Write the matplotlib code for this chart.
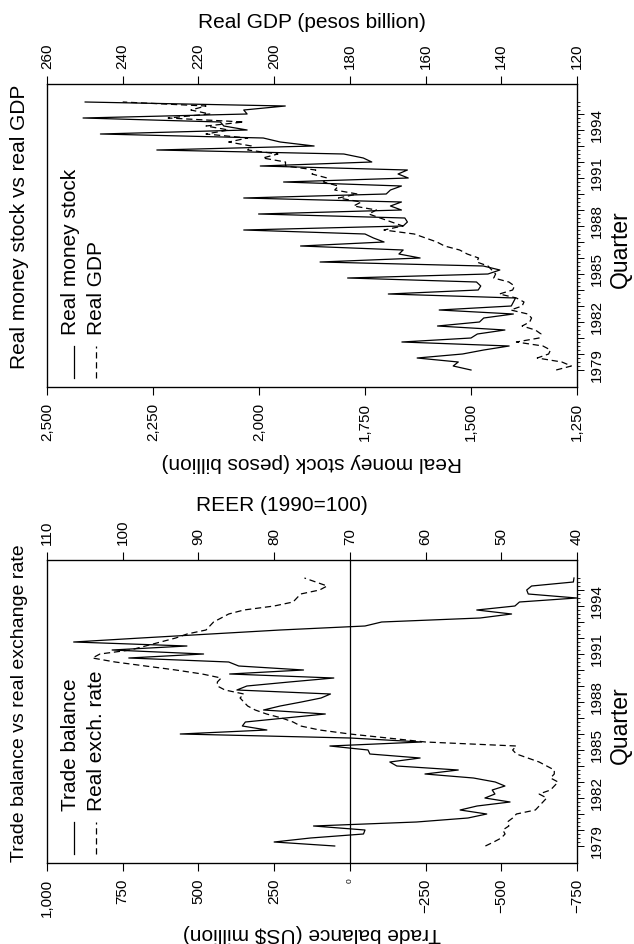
import numpy as np
import matplotlib
matplotlib.use('Agg')
import matplotlib.pyplot as plt
from matplotlib.lines import Line2D
from matplotlib.transforms import ScaledTranslation

plt.rcParams['font.family'] = ['Liberation Sans', 'DejaVu Sans']

# quarterly data, 1979Q1 - 1995Q4
start_year = 1979

money_stock = [1500, 1542, 1530, 1627,
               1520, 1470, 1410, 1663,
               1500, 1485, 1420, 1579,
               1480, 1470, 1400, 1575,
               1405, 1400, 1395, 1695,
               1483, 1477, 1487, 1791,
               1460, 1432, 1471, 1856,
               1620, 1670, 1660, 1902,
               1705, 1730, 1750, 2036,
               1660, 1650, 1656, 2001,
               1664, 1690, 1664, 2036,
               1700, 1690, 1664, 1942,
               1648, 1672, 1650, 1997,
               1734, 1754, 1800, 2241,
               1870, 1950, 1990, 2374,
               2028, 2083, 2091, 2415,
               2028, 2036, 1938, 2410]

real_gdp = [125.5, 121.5, 124.0, 130.5,
            127.5, 127.0, 129.0, 136.0,
            130.0, 129.5, 131.0, 134.5,
            132.5, 132.0, 133.0, 137.5,
            134.5, 134.0, 136.0, 140.5,
            137.0, 136.5, 138.0, 142.0,
            141.5, 142.5, 143.5, 146.5,
            146.0, 149.0, 151.0, 155.0,
            157.0, 160.0, 163.0, 171.0,
            166.0, 169.0, 172.0, 175.0,
            173.0, 179.0, 177.0, 183.0,
            178.0, 184.0, 183.0, 187.0,
            186.0, 190.0, 189.0, 197.0,
            197.0, 203.0, 199.0, 207.0,
            206.0, 212.0, 207.0, 218.0,
            212.0, 218.0, 208.0, 228.0,
            217.0, 222.0, 218.0, 240.0]

trade_balance = [50, 250, 130, -45,
                 -50, 120, -220, -390,
                 -452, -364, -420, -529,
                 -446, -479, -470, -512,
                 -480, -408, -248, -358,
                 -155, -132, -232, -66,
                 -60, 66, -237, -1,
                 560, 274, 355, 345,
                 213, 81, 285, 230,
                 160, 95, 64, 373,
                 340, 200, 53, 397,
                 153, 367, 400, 730,
                 483, 785, 538, 912,
                 690, 460, 230, -50,
                 -105, -430, -534, -419,
                 -545, -560, -749, -589,
                 -584, -600, -738, -740]

reer = [52.1, 51.0, 50.0, 49.5,
        49.8, 49.0, 49.2, 48.5,
        48.0, 45.5, 45.0, 44.5,
        44.0, 45.0, 43.5, 43.0,
        42.5, 43.5, 43.0, 43.0,
        44.0, 45.0, 46.5, 48.0,
        48.5, 48.0, 60.0, 65.0,
        70.0, 74.0, 76.5, 77.5,
        79.0, 81.0, 82.5, 83.5,
        84.0, 84.5, 84.0, 86.5,
        87.5, 87.5, 87.0, 89.5,
        93.0, 97.0, 101.0, 104.0,
        103.0, 99.0, 97.0, 95.0,
        93.0, 91.5, 89.0, 88.5,
        88.0, 87.0, 86.0, 84.0,
        80.0, 77.5, 77.0, 76.5,
        74.0, 73.0, 74.5, 76.0]

money_ticks = [2500, 2250, 2000, 1750, 1500, 1250]
gdp_ticks = [260, 240, 220, 200, 180, 160, 140, 120]
tb_ticks = [1000, 750, 500, 250, 0, -250, -500, -750]
reer_ticks = [110, 100, 90, 80, 70, 60, 50, 40]
label_years = [1979, 1982, 1985, 1988, 1991, 1994]

quarters = start_year + np.arange(len(money_stock)) / 4
years = np.arange(start_year, start_year + len(money_stock) // 4)

W, H = 634, 945
fig = plt.figure(figsize=(W / 100, H / 100), dpi=100)
DASH = (0, (5, 3))


def fmt(v):
    return f'{v:,}'.replace('-', '\u2212')


def panel(box_top, a_vals, a_ticks, a_label, a_label_y, b_vals, b_ticks, b_label, b_label_xy,
          title, title_size, leg_a, leg_b, zero_line=False):
    box_h = 303
    ax = fig.add_axes([47 / W, 1 - (box_top + box_h) / H, 530 / W, box_h / H])
    ax.plot(a_vals, quarters, color='k', lw=0.9)
    if zero_line:
        ax.axvline(0, color='k', lw=0.9)
    ax.set_xlim(a_ticks[0], a_ticks[-1])
    ax.set_ylim(start_year - 17 / 16, start_year + 286 / 16)
    ax.set_xticks(a_ticks, [fmt(v) for v in a_ticks])
    ax.tick_params(axis='x', direction='out', length=5.5, width=0.8, labelrotation=90,
                   labelsize=11, pad=5)
    for lbl in ax.get_xticklabels():
        if lbl.get_text() == '0':
            lbl.set_fontsize(6)
    ax.set_xlabel(a_label, fontsize=15, rotation=180)
    ax.xaxis.set_label_coords(0.5, a_label_y)
    ax.xaxis.label.set(ha='center', va='center')

    # time axis on the right
    ax.yaxis.tick_right()
    ax.set_yticks(years, [str(y) if y in label_years else '' for y in years])
    ax.set_yticks(quarters, minor=True)
    ax.tick_params(axis='y', which='major', direction='out', length=5, width=0.7,
                   labelrotation=90, labelsize=11, pad=4)
    ax.tick_params(axis='y', which='minor', direction='out', length=2.5, width=0.6)
    shift = ScaledTranslation(0, 0.06, fig.dpi_scale_trans)
    for lbl in ax.get_yticklabels():
        lbl.set_va('center')
        lbl.set_transform(lbl.get_transform() + shift)
    ax.set_ylabel('Quarter', fontsize=16.5)
    ax.yaxis.set_label_position('right')
    ax.yaxis.set_label_coords(1.081, 0.457)
    ax.yaxis.label.set(rotation=90, ha='center', va='center', rotation_mode='default')

    for s in ax.spines.values():
        s.set_linewidth(0.9)

    axb = ax.twiny()
    axb.plot(b_vals, quarters, color='k', lw=0.9, ls=DASH)
    axb.set_xlim(b_ticks[0], b_ticks[-1])
    axb.set_xticks(b_ticks, [fmt(v) for v in b_ticks])
    axb.tick_params(axis='x', direction='out', length=5.5, width=0.8, labelrotation=90,
                    labelsize=11, pad=6)
    axb.set_xlabel(b_label, fontsize=15)
    axb.xaxis.set_label_coords(*b_label_xy)
    axb.xaxis.label.set(ha='center', va='center')

    # title, reads bottom to top
    ax.text(-0.051, 0.531, title, rotation=90, ha='center', va='center',
            fontsize=title_size, transform=ax.transAxes)

    # legend, drawn turned like the rest of the chart
    ax.add_line(Line2D([0.051, 0.051], [0.03, 0.135], color='k', lw=0.9,
                       transform=ax.transAxes))
    ax.add_line(Line2D([0.092, 0.092], [0.03, 0.135], color='k', lw=0.9, ls=DASH,
                       transform=ax.transAxes))
    ax.text(0.044, 0.175, leg_a, rotation=90, ha='center', va='bottom', fontsize=15,
            transform=ax.transAxes)
    ax.text(0.094, 0.175, leg_b, rotation=90, ha='center', va='bottom', fontsize=15,
            transform=ax.transAxes)
    return ax


panel(85, money_stock, money_ticks, 'Real money stock (pesos billion)', -0.2475,
      real_gdp, gdp_ticks, 'Real GDP (pesos billion)', (0.5, 1.205),
      'Real money stock vs real GDP', 15, 'Real money stock', 'Real GDP')

panel(561, trade_balance, tb_ticks, 'Trade balance (US$ million)', -0.23,
      reer, reer_ticks, 'REER (1990=100)', (0.443, 1.184),
      'Trade balance vs real exchange rate', 14, 'Trade balance', 'Real exch. rate',
      zero_line=True)

fig.savefig('out.png', dpi=100)
